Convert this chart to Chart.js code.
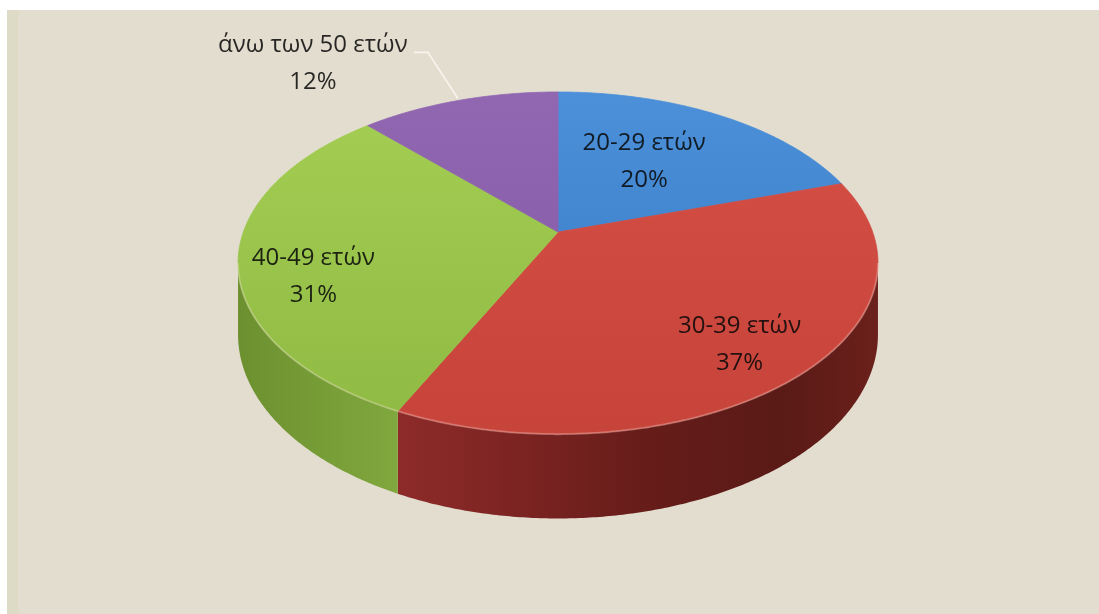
<!DOCTYPE html>
<html>
<head>
<meta charset="utf-8">
<script src="https://cdn.jsdelivr.net/npm/chart.js@4/dist/chart.umd.min.js"></script>
<style>
  html, body { margin: 0; padding: 0; background: #ffffff; overflow: hidden; }
  canvas { display: block; }
</style>
</head>
<body>
<canvas id="pie3d" width="1099" height="614"></canvas>
<script>
// Age groups and their share (%)
const categories = ['20-29 ετών', '30-39 ετών', '40-49 ετών', 'άνω των 50 ετών'];
const shares = [20, 37, 31, 12];

// Face colours: [light, dark] for the top, [left, right] for the side wall
const topColors = [['#4b90d9', '#3778c4'], ['#d64f45', '#c7443b'], ['#a4ce53', '#8fba43'], ['#9167b2', '#8157a4']];
const wallColors = [['#2f5f9c', '#244c80'], ['#8c2a29', '#5a1a16'], ['#6c902f', '#80a83e'], ['#6a4785', '#56386d']];

// Tilted-disc view (relative to the pie radius)
const view = { sx: 1.025, sy: 0.539, depth: 0.225, lift: 0.244, persp: 0.181 };

// Label placement: radial factor on the top face and extra vertical shift
const labelRadius = [0.5, 0.78, 0.77, 1.0];
const labelShift = [-8, 4, 24, 0];
const outsideLabel = [false, false, false, true];

function projector(arc) {
  const R = arc.outerRadius;
  const cx = arc.x, cy = arc.y - view.lift * R;
  const A = view.sx * R, B = view.sy * R, D = view.depth * R, p = view.persp;
  return (theta, r, z) => {
    const s = 1 / (1 - p * r * Math.sin(theta));
    return [cx + A * r * Math.cos(theta) * s, cy + (B * r * Math.sin(theta) + D * z) * s];
  };
}

function rimPath(ctx, P, a0, a1, z, moveFirst) {
  const n = Math.max(2, Math.ceil(Math.abs(a1 - a0) / (Math.PI / 360)));
  for (let i = 0; i <= n; i++) {
    const t = a0 + (a1 - a0) * i / n;
    const [x, y] = P(t, 1, z);
    if (i === 0 && moveFirst) ctx.moveTo(x, y); else ctx.lineTo(x, y);
  }
}

const backgroundPlugin = {
  id: 'paper',
  beforeDraw(chart) {
    const { ctx, width, height } = chart;
    ctx.save();
    ctx.fillStyle = '#ffffff';
    ctx.fillRect(0, 0, width, height);
    ctx.fillStyle = '#e3ddcf';
    ctx.fillRect(7, 10, width - 7, height - 10);
    ctx.fillStyle = '#dddac6';
    ctx.fillRect(7, 10, 11, height - 10);
    ctx.restore();
  }
};

const pie3dPlugin = {
  id: 'pie3d',
  beforeDatasetsDraw(chart) {
    const ctx = chart.ctx;
    const meta = chart.getDatasetMeta(0);
    const arcs = meta.data;
    if (!arcs.length) return false;
    const P = projector(arcs[0]);
    const vis0 = Math.asin(view.persp), vis1 = Math.PI - vis0;
    const topY = P(-Math.PI / 2, 1, 0)[1], frontY = P(Math.PI / 2, 1, 0)[1];

    ctx.save();
    // side walls (front half only)
    arcs.forEach((arc, i) => {
      const a0 = Math.max(arc.startAngle, vis0), a1 = Math.min(arc.endAngle, vis1);
      if (a1 <= a0) return;
      const xl = P(a1, 1, 0)[0], xr = P(a0, 1, 0)[0];
      const g = ctx.createLinearGradient(Math.min(xl, xr), 0, Math.max(xl, xr), 0);
      if (i === 1) {
        g.addColorStop(0, '#8d2b29');
        g.addColorStop(0.25, '#7c2422');
        g.addColorStop(0.5, '#671d1a');
        g.addColorStop(0.8, '#5a1a16');
        g.addColorStop(1, '#6b201b');
      } else {
        g.addColorStop(0, wallColors[i][0]);
        g.addColorStop(1, wallColors[i][1]);
      }
      ctx.beginPath();
      rimPath(ctx, P, a0, a1, 0, true);
      rimPath(ctx, P, a1, a0, 1, false);
      ctx.closePath();
      ctx.fillStyle = g;
      ctx.fill();
    });

    // top faces
    arcs.forEach((arc, i) => {
      const g = ctx.createLinearGradient(0, topY, 0, frontY);
      g.addColorStop(0, topColors[i][0]);
      g.addColorStop(1, topColors[i][1]);
      const c = P(0, 0, 0);
      ctx.beginPath();
      ctx.moveTo(c[0], c[1]);
      rimPath(ctx, P, arc.startAngle, arc.endAngle, 0, false);
      ctx.closePath();
      ctx.fillStyle = g;
      ctx.fill();
      ctx.strokeStyle = g;
      ctx.lineWidth = 0.8;
      ctx.stroke();
    });

    // soft highlight along the front rim
    arcs.forEach((arc) => {
      const a0 = Math.max(arc.startAngle, vis0), a1 = Math.min(arc.endAngle, vis1);
      if (a1 <= a0) return;
      ctx.beginPath();
      rimPath(ctx, P, a0, a1, 0, true);
      ctx.strokeStyle = 'rgba(255,235,225,0.28)';
      ctx.lineWidth = 2;
      ctx.stroke();
    });

    // labels
    const total = shares.reduce((a, b) => a + b, 0);
    ctx.font = '24px "Open Sans", "Noto Sans", sans-serif';
    ctx.textAlign = 'center';
    ctx.textBaseline = 'middle';
    const lineGap = 37;
    arcs.forEach((arc, i) => {
      const mid = (arc.startAngle + arc.endAngle) / 2;
      const pct = Math.round(shares[i] / total * 100) + '%';
      let [x, y] = P(mid, labelRadius[i], 0);
      if (outsideLabel[i]) {
        const rim = P(mid, 1, 0);
        ctx.beginPath();
        ctx.moveTo(rim[0] - 1, rim[1] - 2);
        ctx.lineTo(rim[0] - 31, rim[1] - 48);
        ctx.lineTo(rim[0] - 45, rim[1] - 48);
        ctx.strokeStyle = '#f7f5ee';
        ctx.lineWidth = 1.6;
        ctx.stroke();
        x = rim[0] - 146;
        y = rim[1] - 37;
      } else {
        y += labelShift[i];
      }
      ctx.fillStyle = 'rgba(8,8,8,0.86)';
      ctx.fillText(categories[i], x, y - lineGap / 2);
      ctx.fillText(pct, x, y + lineGap / 2);
    });
    ctx.restore();
    return false;
  }
};

new Chart(document.getElementById('pie3d'), {
  type: 'pie',
  data: {
    labels: categories,
    datasets: [{
      data: shares,
      backgroundColor: topColors.map(c => c[0]),
      borderWidth: 0
    }]
  },
  options: {
    responsive: false,
    animation: false,
    layout: { padding: { left: 17, right: 0, top: 0, bottom: 0 } },
    plugins: { legend: { display: false }, tooltip: { enabled: false } },
    events: []
  },
  plugins: [backgroundPlugin, pie3dPlugin]
});
</script>
</body>
</html>
